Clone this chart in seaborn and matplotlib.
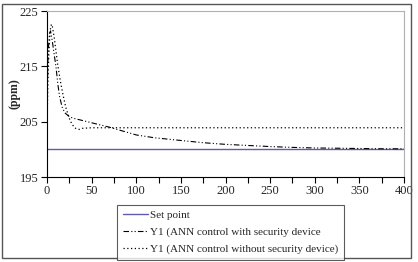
import numpy as np
import pandas as pd
import matplotlib
matplotlib.use("Agg")
import matplotlib.pyplot as plt
import seaborn as sns
from matplotlib.patches import Rectangle

sns.set_style("white")
plt.rcParams['font.family'] = ['Liberation Serif', 'DejaVu Serif']

# setpoint
t_sp = [0, 400]
v_sp = [200, 200]

# Y1 with security device (dash-dot-dot)
t_sec = [0, 0.5, 1, 2, 3, 4, 6, 8, 10, 12, 14, 17, 20, 25, 30, 40, 50, 60, 70,
         85, 100, 120, 150, 175, 200, 225, 250, 275, 300, 325, 350, 375, 400]
v_sec = [200, 212, 216, 219.5, 221, 221.4, 219.5, 217.2, 215, 212, 209.6, 207.6,
         206.6, 205.9, 205.6, 205.2, 204.8, 204.4, 204.0, 203.3, 202.6, 202.1,
         201.6, 201.2, 200.9, 200.7, 200.5, 200.35, 200.25, 200.2, 200.15, 200.1, 200.1]

# Y1 without security device (dotted)
t_nos = [0, 0.5, 1, 2, 3, 4, 5, 6, 8, 10, 12, 15, 18, 21, 25, 28, 32, 36, 40, 50, 400]
v_nos = [200, 208, 212, 217, 220, 222, 222.6, 222.2, 220.3, 217.8, 215.3, 212.3,
         209.8, 207.6, 205.6, 204.5, 203.8, 203.6, 203.8, 203.9, 203.9]

labels = ["Set point",
          "Y1 (ANN control with security device",
          "Y1 (ANN control without security device)"]

W, H = 418, 262
fig = plt.figure(figsize=(W / 100, H / 100), dpi=100)
ax = fig.add_axes([47 / W, 1 - 177 / H, (404 - 47) / W, (177 - 11) / H])

sns.lineplot(x=t_sp, y=v_sp, ax=ax, color="#5c5cb0", lw=1.0, label=labels[0])
sns.lineplot(x=t_sec, y=v_sec, ax=ax, color="black", lw=0.8, label=labels[1])
sns.lineplot(x=t_nos, y=v_nos, ax=ax, color="black", lw=0.9, label=labels[2])
lines = ax.get_lines()
lines[1].set_dashes((5, 2, 1, 2, 1, 2))
lines[2].set_dashes((1, 2))

ax.set_xlim(0, 400)
ax.set_ylim(195, 225)
ax.set_yticks([195, 205, 215, 225])
xt = list(range(0, 401, 25))
ax.set_xticks(xt)
ax.set_xticklabels([str(v) if v % 50 == 0 else "" for v in xt])
ax.tick_params(axis="both", direction="out", length=4, width=0.8,
               labelsize=9, color="black", pad=2, bottom=True, left=True)
ax.set_xlabel("")
ax.set_ylabel("(ppm)", fontsize=8.5, fontweight="bold")
ax.yaxis.set_label_coords(-0.075, 0.5)

for s in ["left", "bottom"]:
    ax.spines[s].set_color("black")
    ax.spines[s].set_linewidth(0.8)
for s in ["top", "right"]:
    ax.spines[s].set_color("#b0b0b0")
    ax.spines[s].set_linewidth(0.8)

ax.get_legend().remove()
h, l = ax.get_legend_handles_labels()
leg = fig.legend(h, l, loc="upper left", bbox_to_anchor=(117 / W, 1 - 205 / H),
                 fontsize=8, frameon=True, fancybox=False, handlelength=2.3,
                 labelspacing=0.62, borderaxespad=0, borderpad=0.5,
                 handletextpad=0.2)
leg.get_frame().set_edgecolor("#333333")
leg.get_frame().set_linewidth(0.8)

fig.patches.append(Rectangle((2 / W, 4 / H), (411 - 2) / W, (258 - 4) / H,
                             transform=fig.transFigure, fill=False,
                             edgecolor="#555555", lw=1.0))

fig.savefig("out.png", dpi=100)
